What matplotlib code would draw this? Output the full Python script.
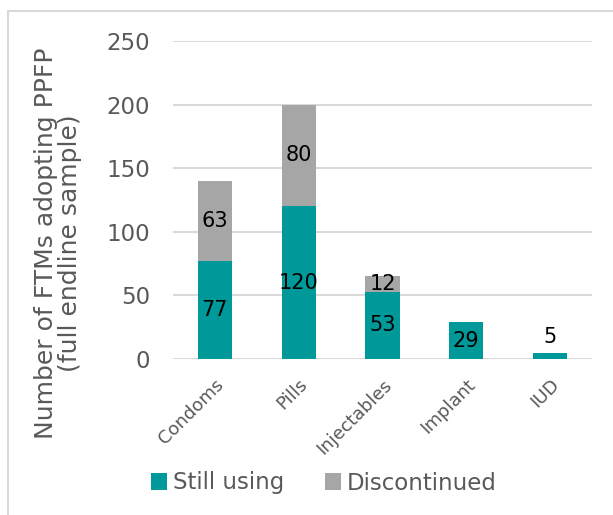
import matplotlib.pyplot as plt
from matplotlib.patches import Rectangle

methods = ['Condoms', 'Pills', 'Injectables', 'Implant', 'IUD']
still_using = [77, 120, 53, 29, 5]
discontinued = [63, 80, 12, 0, 0]

teal = '#009999'
grey = '#A6A6A6'
plt.rcParams['font.family'] = ['DejaVu Sans']

fig = plt.figure(figsize=(6.13, 5.15), dpi=100)
ax = fig.add_axes([173 / 613, 1 - 359 / 515, 419 / 613, 318 / 515])

x = range(len(methods))
b1 = ax.bar(x, still_using, width=0.41, color=teal, label='Still using')
b2 = ax.bar(x, discontinued, width=0.41, bottom=still_using, color=grey, label='Discontinued')

for i, (s, d) in enumerate(zip(still_using, discontinued)):
    if s >= 10:
        ax.text(i, s / 2, str(s), ha='center', va='center', fontsize=15, color='black')
    else:
        ax.text(i, s + 12, str(s), ha='center', va='center', fontsize=15, color='black')
    if d > 0:
        ax.text(i, s + d / 2, str(d), ha='center', va='center', fontsize=15, color='black')

ax.set_xlim(-0.5, len(methods) - 0.5)
ax.set_ylim(0, 250)
ax.set_yticks(range(0, 251, 50))
ax.grid(axis='y', color='#D9D9D9', linewidth=1.5)
ax.set_axisbelow(True)
for s in ax.spines.values():
    s.set_visible(False)
ax.tick_params(axis='both', length=0, labelcolor='#595959')
ax.tick_params(axis='y', pad=16.5, labelsize=16.5)
ax.tick_params(axis='x', pad=12)
ax.set_xticks(list(x))
ax.set_xticklabels(methods, rotation=45, ha='right', rotation_mode='anchor', fontsize=13)

fig.text(58 / 613, 1 - 243 / 515, 'Number of FTMs adopting PPFP\n(full endline sample)',
         rotation=90, ha='center', va='center', fontsize=18, color='#595959', linespacing=1.0)

fig.legend(handles=[b1, b2], loc='center', bbox_to_anchor=(324 / 613, 1 - 483 / 515),
           ncol=2, frameon=False, fontsize=16.5, handlelength=0.7, handleheight=0.7,
           handletextpad=0.25, columnspacing=1.8, labelcolor='#595959')

fig.patches.append(Rectangle((8 / 613, -0.1), 1.2, 1 - 11 / 515 + 0.1, transform=fig.transFigure,
                             fill=False, edgecolor='#D9D9D9', linewidth=1.5))

fig.savefig('out.png', dpi=100)
